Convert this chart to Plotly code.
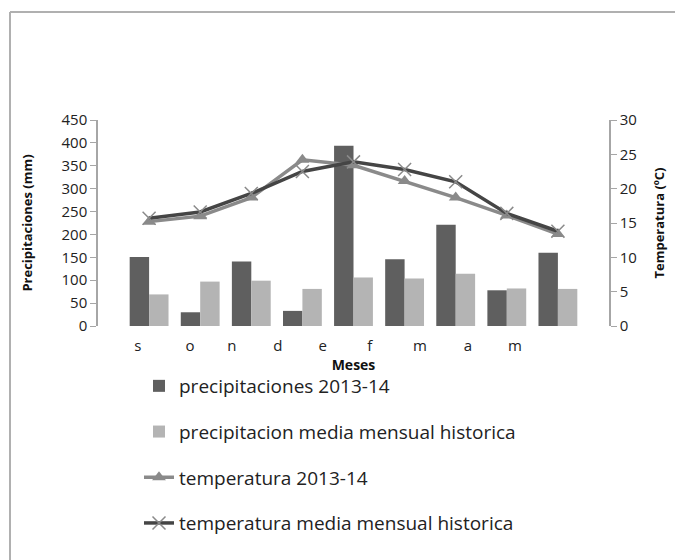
import plotly.graph_objects as go

# ---- data ----
months = ["s", "o", "n", "d", "e", "f", "m", "a", "m"]
precip_2013_14 = [151, 30, 141, 33, 394, 146, 221, 78, 160]
precip_hist = [69, 97, 99, 81, 106, 104, 114, 82, 81]
temp_2013_14 = [15.2, 16.0, 18.7, 24.2, 23.4, 21.1, 18.7, 16.1, 13.4]
temp_hist = [15.7, 16.6, 19.3, 22.5, 23.9, 22.8, 21.0, 16.4, 13.8]

# ---- layout constants ----
x = list(range(len(months)))
label_pos = [-0.22, 0.80, 1.62, 2.52, 3.40, 4.32, 5.30, 6.24, 7.16]
FONT = "Open Sans"
OFF = 8  # page body margin offset

fig = go.Figure()
fig.add_trace(go.Bar(x=x, y=precip_2013_14, name="precipitaciones 2013-14",
                     marker=dict(color="#5f5f5f", line=dict(width=0)),
                     legendgroup="a"))
fig.add_trace(go.Bar(x=x, y=precip_hist, name="precipitacion media mensual historica",
                     marker=dict(color="#b4b4b4", line=dict(width=0)),
                     legendgroup="b"))
fig.add_trace(go.Scatter(x=x, y=temp_2013_14, name="temperatura 2013-14", yaxis="y2",
                         mode="lines+markers",
                         line=dict(color="#8a8a8a", width=3.5),
                         marker=dict(symbol="triangle-up", size=12, color="#8a8a8a"),
                         legendgroup="c"))
fig.add_trace(go.Scatter(x=x, y=temp_hist, name="temperatura media mensual historica", yaxis="y2",
                         mode="lines+markers",
                         line=dict(color="#454545", width=3.5),
                         marker=dict(symbol="x-thin", size=13, color="#8a8a8a",
                                     line=dict(color="#8a8a8a", width=1.5)),
                         legendgroup="d"))

W, H = 683 - OFF, 560 - OFF
L, T = 98 - OFF, 120 - OFF
R = W - (609 - OFF)
B = H - (326 - OFF)
pw = W - L - R
ph = H - T - B

def px(xp):
    return (xp - OFF - L) / pw

def py(yp):
    return (H - B - (yp - OFF)) / ph

fig.update_layout(
    width=W, height=H,
    margin=dict(l=L, r=R, t=T, b=B, autoexpand=False),
    paper_bgcolor="white", plot_bgcolor="white",
    font=dict(family=FONT, color="#222222"),
    barmode="group", bargap=0.24, bargroupgap=0,
    showlegend=True,
    legend=dict(x=px(139), y=py(367), xanchor="left", yanchor="top",
                font=dict(size=19, family=FONT, color="#222222"),
                itemwidth=30, tracegroupgap=18, traceorder="grouped",
                bgcolor="rgba(0,0,0,0)"),
    xaxis=dict(range=[-1, 9], tickvals=label_pos, ticktext=months,
               showgrid=False, zeroline=False, showline=False,
               ticks="outside", ticklen=6, tickcolor="rgba(0,0,0,0)",
               tickfont=dict(size=15, family=FONT, color="#222222"),
               title=dict(text="<b>Meses</b>", font=dict(size=14, family=FONT, color="#111111"),
                          standoff=2)),
    yaxis=dict(range=[0, 450], dtick=50, showgrid=False, zeroline=False,
               showline=True, linecolor="#a6a6a6", linewidth=1.5,
               ticks="outside", ticklen=6, tickcolor="#a6a6a6",
               tickfont=dict(size=15, family=FONT, color="#222222"),
               title=dict(text="<b>Precipitaciones (mm)</b>",
                          font=dict(size=13, family=FONT, color="#111111"), standoff=26)),
    yaxis2=dict(range=[0, 30], dtick=5, overlaying="y", side="right",
                showgrid=False, zeroline=False,
                showline=True, linecolor="#a6a6a6", linewidth=1.5,
                ticks="outside", ticklen=6, tickcolor="#a6a6a6",
                tickfont=dict(size=15, family=FONT, color="#222222"),
                title=dict(text="<b>Temperatura (ºC)</b>",
                           font=dict(size=13, family=FONT, color="#111111"), standoff=19)),
    shapes=[
        dict(type="line", xref="paper", yref="paper",
             x0=px(10), x1=px(683 + 5), y0=py(12), y1=py(12),
             line=dict(color="#b0b0b0", width=2)),
        dict(type="line", xref="paper", yref="paper",
             x0=px(10), x1=px(10), y0=py(12), y1=py(565),
             line=dict(color="#b0b0b0", width=2)),
    ],
)

fig.write_html("out.html")
